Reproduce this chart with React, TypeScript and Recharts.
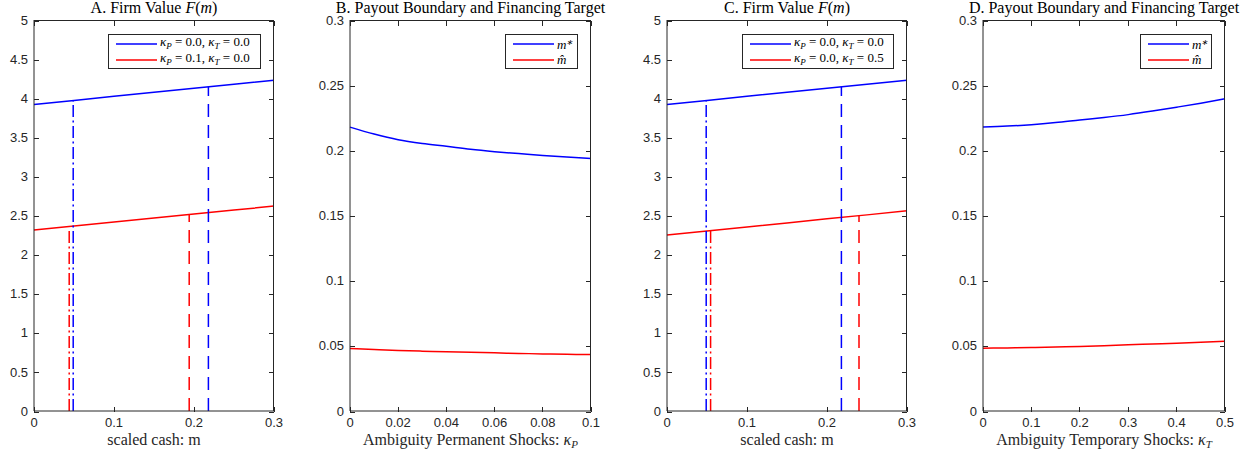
import React from 'react';
import { LineChart, Line, XAxis, YAxis, Legend } from 'recharts';

// ---- data ----
const mGrid = [0, 0.05, 0.1, 0.15, 0.2, 0.25, 0.3];
const firmBase = [3.92, 3.972, 4.024, 4.076, 4.127, 4.178, 4.23];
const firmPerm = [2.315, 2.366, 2.417, 2.468, 2.518, 2.569, 2.62];
const firmTemp = [2.25, 2.302, 2.353, 2.405, 2.457, 2.508, 2.56];

// [financing target (dash-dot), payout boundary (dashed)]
const baseMarksX = [0.049, 0.218];
const baseMarksTop = [3.97, 4.145];
const permMarksX = [0.044, 0.194];
const permMarksTop = [2.33, 2.51];
const tempMarksX = [0.0545, 0.24];
const tempMarksTop = [2.31, 2.5];

const kappaP = [0, 0.01, 0.02, 0.03, 0.04, 0.05, 0.06, 0.07, 0.08, 0.09, 0.1];
const mStarP = [0.2178, 0.2125, 0.2082, 0.2053, 0.2031, 0.2008, 0.199, 0.1975, 0.196, 0.1948, 0.1938];
const mHatP = [0.0479, 0.0471, 0.0464, 0.0459, 0.0454, 0.045, 0.0446, 0.0442, 0.0438, 0.0435, 0.0433];

const kappaT = [0, 0.05, 0.1, 0.15, 0.2, 0.25, 0.3, 0.35, 0.4, 0.45, 0.5];
const mStarT = [0.2179, 0.2186, 0.2197, 0.2213, 0.2233, 0.2252, 0.2274, 0.2301, 0.2331, 0.2362, 0.2395];
const mHatT = [0.0482, 0.0484, 0.0487, 0.0491, 0.0495, 0.0501, 0.0508, 0.0514, 0.052, 0.0528, 0.0536];

const firmTicksY = [0, 0.5, 1, 1.5, 2, 2.5, 3, 3.5, 4, 4.5, 5];
const cashTicksX = [0, 0.1, 0.2, 0.3];
const boundTicksY = [0, 0.05, 0.1, 0.15, 0.2, 0.25, 0.3];
const kappaPTicks = [0, 0.02, 0.04, 0.06, 0.08, 0.1];
const kappaTTicks = [0, 0.1, 0.2, 0.3, 0.4, 0.5];

// ---- style ----
const BLUE = '#0000ff';
const RED = '#ff0000';
const AX = '#262626';
const SANS = '"Liberation Sans", Arial, sans-serif';
const SERIF = '"Liberation Serif", "Times New Roman", serif';
const H = 452;
const TOP = 20;
const XAXIS_H = 41;
const AXIS_W = 34;
const RIGHT_M = 30;
const TICK = 5;
const DASH = '13 8';
const DASHDOT = '12 3.5 2 3.5';

const rows = (xs: number[], ys: number[]) => xs.map((x, i) => ({ x, y: ys[i] }));
const vline = (x: number, top: number) => [{ x, y: 0 }, { x, y: top }];

type Pt = { x: number; y: number };
type Series = { data: Pt[]; color: string; dash?: string; smooth?: boolean };
type LegendItem = { color: string; label: React.ReactNode };

const kap = (sub: string) => (
  <>
    <i>κ</i>
    <sub style={{ fontSize: 9, fontStyle: 'italic', verticalAlign: -3 }}>{sub}</sub>
  </>
);

function LegendBox({ items, width }: { items: LegendItem[]; width: number }) {
  return (
    <div
      style={{
        position: 'relative',
        width,
        height: 35,
        boxSizing: 'border-box',
        border: `1px solid ${AX}`,
        background: '#fff',
        fontFamily: SERIF,
        fontSize: 13,
        lineHeight: '16px',
        color: '#000',
      }}
    >
      {items.map((it, i) => (
        <div
          key={i}
          style={{
            position: 'absolute',
            left: 7,
            top: i === 0 ? 1 : 16.5,
            height: 16,
            display: 'flex',
            alignItems: 'center',
            whiteSpace: 'nowrap',
          }}
        >
          <svg width={41} height={4} style={{ marginRight: 3, display: 'block' }}>
            <line x1={0} y1={2} x2={41} y2={2} stroke={it.color} strokeWidth={1.5} />
          </svg>
          <span>{it.label}</span>
        </div>
      ))}
    </div>
  );
}

// MATLAB-style box drawn with HTML borders: top/right edges and inward ticks
function BoxFrame({ pw, xDomain, xTicks, yDomain, yTicks }: any) {
  const ph = H - TOP - XAXIS_H;
  const px = (t: number) => ((t - xDomain[0]) / (xDomain[1] - xDomain[0])) * pw;
  const py = (t: number) => ph - ((t - yDomain[0]) / (yDomain[1] - yDomain[0])) * ph;
  const tick = (style: React.CSSProperties, key: string) => (
    <div key={key} style={{ position: 'absolute', background: AX, ...style }} />
  );
  return (
    <div
      style={{
        position: 'absolute',
        left: AXIS_W,
        top: TOP,
        width: pw,
        height: ph,
        boxSizing: 'border-box',
        borderTop: `1px solid ${AX}`,
        borderRight: `1px solid ${AX}`,
        pointerEvents: 'none',
        zIndex: 5,
      }}
    >
      {xTicks.map((t: number) => (
        <React.Fragment key={`x${t}`}>
          {tick({ left: px(t) - 0.5, top: 0, width: 1, height: TICK }, `xt${t}`)}
          {tick({ left: px(t) - 0.5, top: ph - TICK, width: 1, height: TICK }, `xb${t}`)}
        </React.Fragment>
      ))}
      {yTicks.map((t: number) => (
        <React.Fragment key={`y${t}`}>
          {tick({ left: 0, top: py(t) - 0.5, width: TICK, height: 1 }, `yl${t}`)}
          {tick({ left: pw - TICK, top: py(t) - 0.5, width: TICK, height: 1 }, `yr${t}`)}
        </React.Fragment>
      ))}
    </div>
  );
}

type PanelProps = {
  left: number;
  plotWidth: number;
  xDomain: [number, number];
  xTicks: number[];
  yDomain: [number, number];
  yTicks: number[];
  title: React.ReactNode;
  xLabel: React.ReactNode;
  legend: LegendItem[];
  legendWidth: number;
  series: Series[];
};

function Panel(p: PanelProps) {
  const width = AXIS_W + p.plotWidth + RIGHT_M;
  const cx = AXIS_W + p.plotWidth / 2;
  const legendLeft = AXIS_W + p.plotWidth - 13 - p.legendWidth;
  return (
    <div style={{ position: 'absolute', left: p.left, top: 0, width, height: H }}>
      <LineChart width={width} height={H} margin={{ top: TOP, right: RIGHT_M, bottom: 0, left: 0 }}>
        <XAxis
          xAxisId="b"
          type="number"
          dataKey="x"
          domain={p.xDomain}
          ticks={p.xTicks}
          interval={0}
          height={XAXIS_H}
          tickLine={false}
          tickSize={0}
          tickMargin={7}
          stroke={AX}
          tick={{ fill: AX, fontSize: 13, fontFamily: SANS }}
          label={{
            content: () => (
              <g>
                <text x={cx} y={13} textAnchor="middle" fontFamily={SERIF} fontSize={16} fill="#000">
                  {p.title}
                </text>
                <text x={cx} y={445} textAnchor="middle" fontFamily={SERIF} fontSize={16} fill={AX}>
                  {p.xLabel}
                </text>
              </g>
            ),
          }}
        />
        <YAxis
          yAxisId="l"
          type="number"
          domain={p.yDomain}
          ticks={p.yTicks}
          interval={0}
          width={AXIS_W}
          tickLine={false}
          tickSize={0}
          tickMargin={6}
          stroke={AX}
          tick={{ fill: AX, fontSize: 13, fontFamily: SANS }}
        />
        <Legend
          layout="horizontal"
          verticalAlign="middle"
          align="center"
          wrapperStyle={{ left: legendLeft, top: 34, width: p.legendWidth, height: 35 }}
          content={() => <LegendBox items={p.legend} width={p.legendWidth} />}
        />
        {p.series.map((s, i) => (
          <Line
            key={i}
            xAxisId="b"
            yAxisId="l"
            data={s.data}
            dataKey="y"
            type={s.smooth ? 'monotone' : 'linear'}
            stroke={s.color}
            strokeWidth={1.5}
            strokeDasharray={s.dash}
            dot={false}
            activeDot={false}
            legendType="none"
            isAnimationActive={false}
          />
        ))}
      </LineChart>
      <BoxFrame pw={p.plotWidth} xDomain={p.xDomain} xTicks={p.xTicks} yDomain={p.yDomain} yTicks={p.yTicks} />
    </div>
  );
}

const firmLegend = (second: React.ReactNode): LegendItem[] => [
  { color: BLUE, label: <>{kap('P')} = 0.0, {kap('T')} = 0.0</> },
  { color: RED, label: second },
];

const boundLegend: LegendItem[] = [
  { color: BLUE, label: <i>m<sup style={{ fontSize: 8, verticalAlign: 4 }}>∗</sup></i> },
  { color: RED, label: <i>m̂</i> },
];

const firmTitle = (letter: string) => (
  <>
    {letter}. Firm Value <tspan fontStyle="italic">F</tspan>(<tspan fontStyle="italic">m</tspan>)
  </>
);

const boundSeries = (xs: number[], star: number[], hat: number[]): Series[] => [
  { data: rows(xs, star), color: BLUE, smooth: true },
  { data: rows(xs, hat), color: RED, smooth: true },
];

const firmSeries = (red: number[], redX: number[], redTop: number[]): Series[] => [
  { data: rows(mGrid, firmBase), color: BLUE },
  { data: rows(mGrid, red), color: RED },
  { data: vline(baseMarksX[0], baseMarksTop[0]), color: BLUE, dash: DASHDOT },
  { data: vline(baseMarksX[1], baseMarksTop[1]), color: BLUE, dash: DASH },
  { data: vline(redX[0], redTop[0]), color: RED, dash: DASHDOT },
  { data: vline(redX[1], redTop[1]), color: RED, dash: DASH },
];

export default function App() {
  return (
    <div style={{ position: 'absolute', left: 0, top: 0, width: 1256, height: H, background: '#fff', overflow: 'hidden' }}>
      <Panel
        left={0}
        plotWidth={240}
        xDomain={[0, 0.3]}
        xTicks={cashTicksX}
        yDomain={[0, 5]}
        yTicks={firmTicksY}
        title={firmTitle('A')}
        xLabel="scaled cash: m"
        legend={firmLegend(<>{kap('P')} = 0.1, {kap('T')} = 0.0</>)}
        legendWidth={153}
        series={firmSeries(firmPerm, permMarksX, permMarksTop)}
      />
      <Panel
        left={316}
        plotWidth={241}
        xDomain={[0, 0.1]}
        xTicks={kappaPTicks}
        yDomain={[0, 0.3]}
        yTicks={boundTicksY}
        title="B. Payout Boundary and Financing Target"
        xLabel={
          <>
            Ambiguity Permanent Shocks: <tspan fontStyle="italic">κ</tspan>
            <tspan fontStyle="italic" fontSize={11} dy={3}>P</tspan>
          </>
        }
        legend={boundLegend}
        legendWidth={73}
        series={boundSeries(kappaP, mStarP, mHatP)}
      />
      <Panel
        left={633}
        plotWidth={240}
        xDomain={[0, 0.3]}
        xTicks={cashTicksX}
        yDomain={[0, 5]}
        yTicks={firmTicksY}
        title={firmTitle('C')}
        xLabel="scaled cash: m"
        legend={firmLegend(<>{kap('P')} = 0.0, {kap('T')} = 0.5</>)}
        legendWidth={152}
        series={firmSeries(firmTemp, tempMarksX, tempMarksTop)}
      />
      <Panel
        left={949}
        plotWidth={242}
        xDomain={[0, 0.5]}
        xTicks={kappaTTicks}
        yDomain={[0, 0.3]}
        yTicks={boundTicksY}
        title="D. Payout Boundary and Financing Target"
        xLabel={
          <>
            Ambiguity Temporary Shocks: <tspan fontStyle="italic">κ</tspan>
            <tspan fontStyle="italic" fontSize={11} dy={3}>T</tspan>
          </>
        }
        legend={boundLegend}
        legendWidth={72}
        series={boundSeries(kappaT, mStarT, mHatT)}
      />
    </div>
  );
}
